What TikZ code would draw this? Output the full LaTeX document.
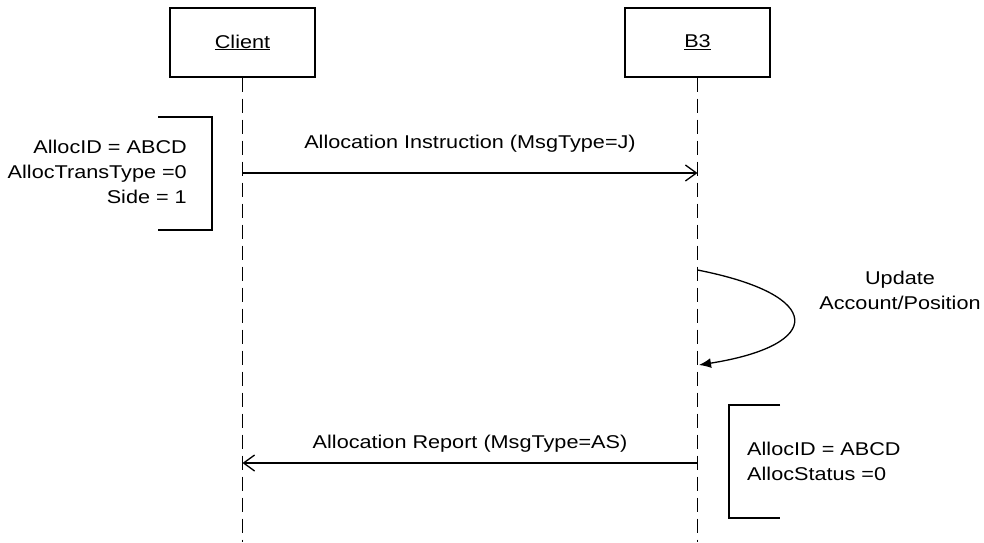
\documentclass[tikz,border=0pt]{standalone}
\usepackage{fontspec}
\setmainfont{Liberation Sans}[FakeStretch=1.17]
\usetikzlibrary{positioning, arrows.meta}
\tikzset{obj/.style={draw, line width=1.3pt, minimum width=145pt, minimum height=69pt, inner sep=0pt, font=\fontsize{18.5}{25}\selectfont},
    life/.style={line width=1.3pt, dash pattern=on 14pt off 7pt},
    msg/.style={line width=1.3pt, -{Straight Barb[length=11pt,width=16pt]}},
    selfmsg/.style={line width=1.3pt, -{Latex[length=12pt,width=10pt]}},
    txt/.style={inner sep=0pt, font=\fontsize{18.5}{25}\selectfont},
    brk/.style={line width=1.3pt}}

\begin{document}
\begin{tikzpicture}[x=1pt,y=-1pt]
    \useasboundingbox (0,0) rectangle (984,542);

    \node[obj] (client) at (242.5,42.5) {\underline{Client}};
    \node[obj] (b3) at (697.5,42.5) {\underline{B3}};

    \coordinate (floor) at (0,542);
    \coordinate (client end) at (client.south |- floor);
    \coordinate (b3 end) at (b3.south |- floor);
    \draw[life](client)--(client end);
    \draw[life](b3)--(b3 end);

    \coordinate (c1) at (242.5,173);
    \coordinate (b1) at (697.5,173);
    \coordinate (s1) at (697.5,270);
    \coordinate (s2) at (699,365);
    \coordinate (b2) at (697.5,463);
    \coordinate (c2) at (242.5,463);

    \draw[msg](c1)--node[txt, above=20pt]{Allocation Instruction (MsgType=J)}(b1);
    \draw[selfmsg](s1) .. controls (825,295) and (825,345) .. (s2);
    \node[txt, align=center] (upd) at (900,290) {Update\\Account/Position};
    \draw[msg](b2)--node[txt, above=10pt]{Allocation Report (MsgType=AS)}(c2);

    \node[txt, align=right, anchor=east] (alloc) at (187,172) {AllocID = ABCD\\AllocTransType =0\\Side = 1};
    \draw[brk](158,117) -| (212,230) -- (158,230);

    \node[txt, align=left, anchor=west] (report) at (747,461.5) {AllocID = ABCD\\AllocStatus =0};
    \draw[brk](780,405) -| (729,518) -- (780,518);
\end{tikzpicture}
\end{document}
